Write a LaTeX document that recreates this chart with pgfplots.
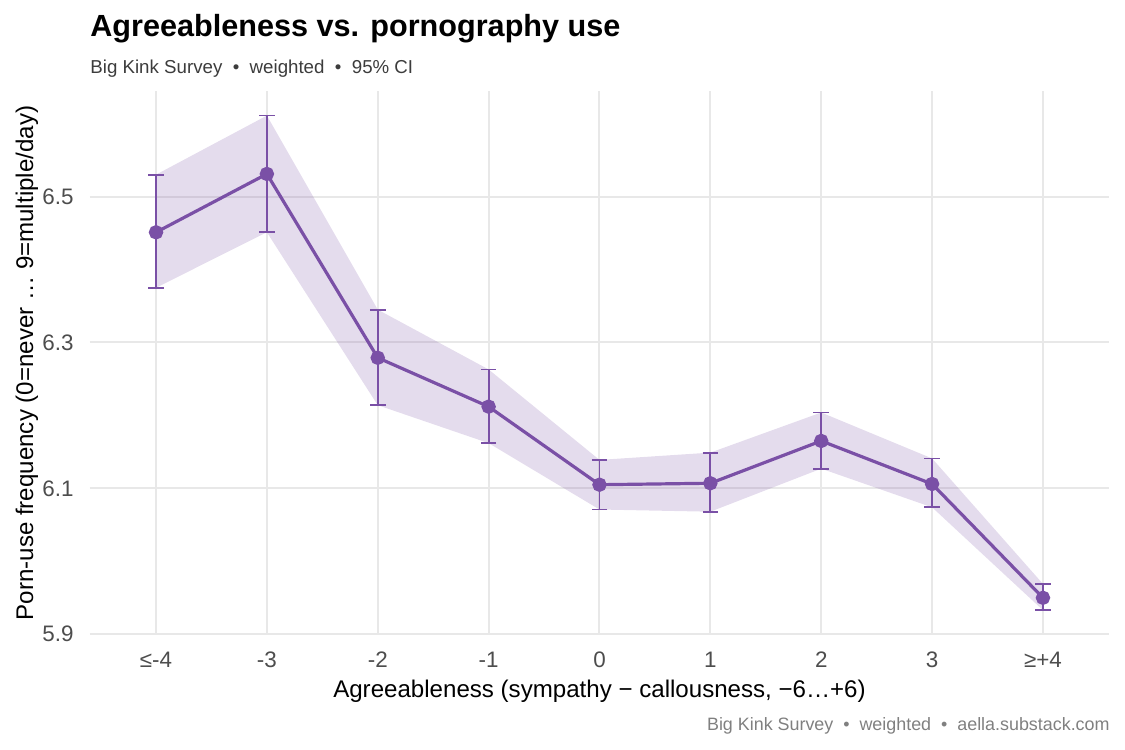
\documentclass[border=0pt]{standalone}
\usepackage{fontspec}
\setmainfont{Liberation Sans}
\usepackage{pgfplots}
\usepackage{pgfplotstable}
\pgfplotsset{compat=1.18}
\usepgfplotslibrary{fillbetween}

\definecolor{purp}{RGB}{122,80,166}
\definecolor{gridgrey}{RGB}{232,232,232}
\definecolor{tickgrey}{RGB}{77,77,77}
\definecolor{subgrey}{RGB}{60,60,60}
\definecolor{capgrey}{RGB}{128,128,128}

% mean and 95% CI per agreeableness level (x = category index)
\pgfplotstableread{
x  y      lo     hi
0  6.451  6.375  6.530
1  6.531  6.451  6.611
2  6.279  6.214  6.345
3  6.212  6.162  6.263
4  6.105  6.071  6.139
5  6.107  6.068  6.149
6  6.165  6.127  6.204
7  6.106  6.074  6.141
8  5.950  5.933  5.969
}\agreedata

\begin{document}
\begin{tikzpicture}
\begin{axis}[
  at={(44.75pt,57.5pt)}, anchor=south west,
  scale only axis, width=510pt, height=271.75pt,
  xmin=-0.6, xmax=8.6, ymin=5.899, ymax=6.644,
  axis line style={draw=none},
  major tick length=0pt,
  xtick={0,1,2,3,4,5,6,7,8},
  xticklabels={≤-4,-3,-2,-1,0,1,2,3,≥+4},
  ytick={5.9,6.1,6.3,6.5},
  yticklabels={5.9,6.1,6.3,6.5},
  /pgf/number format/assume math mode=true,
  ticklabel style={font=\fontsize{11.2}{13}\selectfont, text=tickgrey, inner sep=0pt},
  xticklabel style={anchor=base, yshift=-16.5pt},
  yticklabel style={anchor=east, xshift=-7.75pt},
  grid=major,
  major grid style={color=gridgrey, line width=1pt},
  clip=false,
]
  \addplot[name path=hi, draw=none, forget plot] table[x=x, y=hi] {\agreedata};
  \addplot[name path=lo, draw=none, forget plot] table[x=x, y=lo] {\agreedata};
  \addplot[fill=purp, fill opacity=0.2, draw=none] fill between[of=hi and lo];

  \addplot[purp, line width=1.6pt, mark=*, mark size=2.8pt,
    error bars/.cd, y dir=both, y explicit,
    error bar style={line width=0.9pt},
    error mark options={rotate=90, line width=0.9pt, mark size=3.9pt}]
    table[x=x, y=y,
          y error plus expr=\thisrow{hi}-\thisrow{y},
          y error minus expr=\thisrow{y}-\thisrow{lo}] {\agreedata};
\end{axis}

% titles and axis labels
\node[anchor=base west, inner sep=0pt, font=\fontsize{15.3}{18}\selectfont\bfseries]
  at (45pt,356.5pt) {Agreeableness vs. pornography use};
\node[anchor=base west, inner sep=0pt, text=subgrey, font=\fontsize{9.35}{11}\selectfont]
  at (45pt,338pt) {Big Kink Survey \ • \ weighted \ • \ 95\% CI};
\node[anchor=base, inner sep=0pt, font=\fontsize{12.05}{14}\selectfont]
  at (299.75pt,26.5pt) {Agreeableness (sympathy − callousness, −6…+6)};
\node[anchor=base, rotate=90, inner sep=0pt, font=\fontsize{12.05}{14}\selectfont]
  at (16.5pt,193.5pt) {Porn-use frequency (0=never … 9=multiple/day)};
\node[anchor=base east, inner sep=0pt, text=capgrey, font=\fontsize{8.95}{11}\selectfont]
  at (555pt,9.5pt) {Big Kink Survey \ • \ weighted \ • \ aella.substack.com};

\pgfresetboundingbox
\useasboundingbox (0pt,0pt) rectangle (562.5pt,375pt);
\end{tikzpicture}
\end{document}
